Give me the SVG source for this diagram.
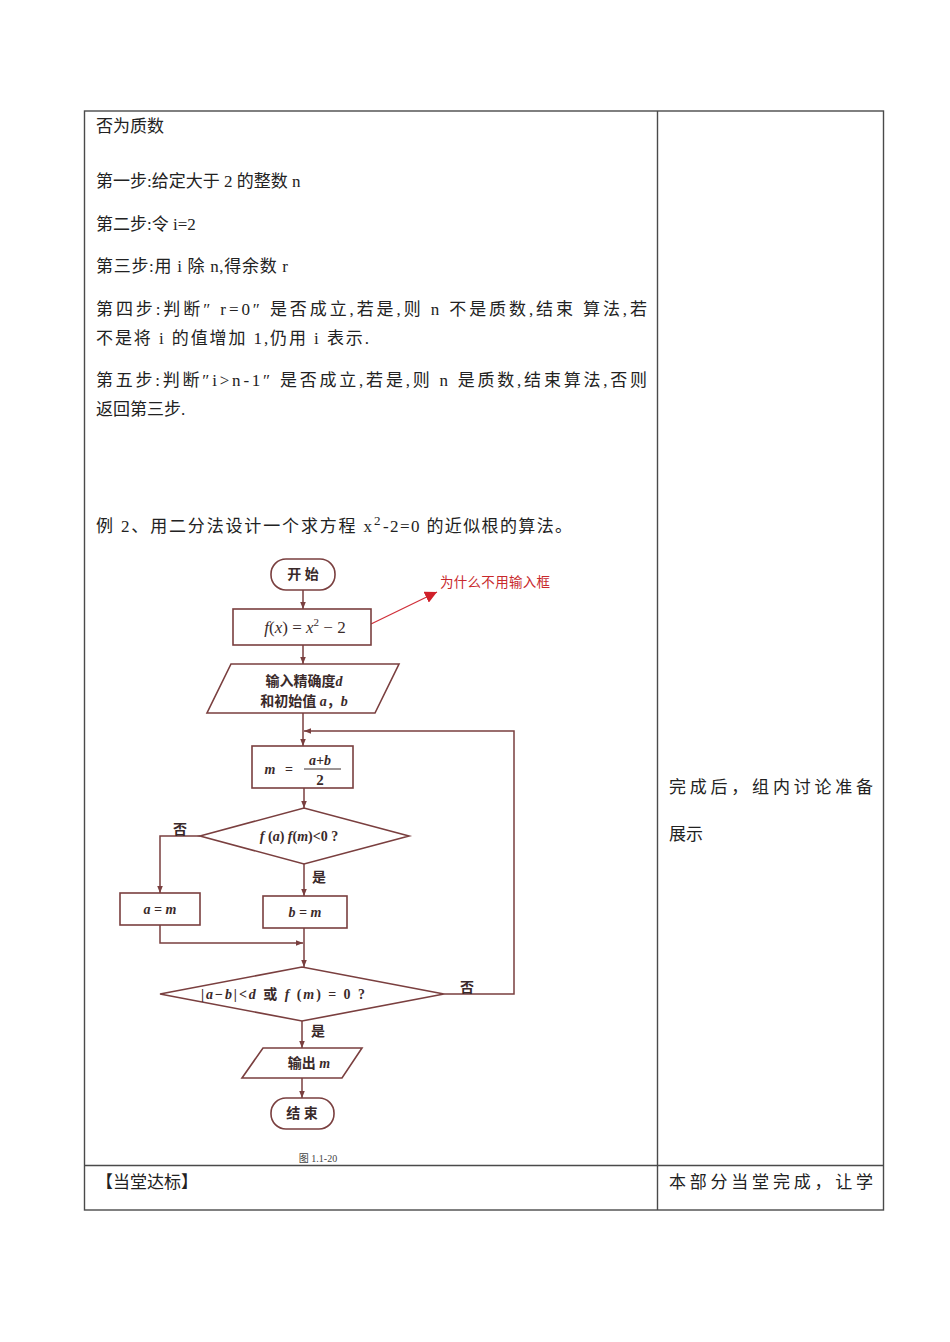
<svg xmlns="http://www.w3.org/2000/svg" width="950" height="1342" viewBox="0 0 950 1342">
<defs>
<style>
.tbl{stroke:#4a4a4a;stroke-width:1.4;fill:none}
.body{font-family:"Liberation Serif","Noto Sans CJK SC",serif;font-size:17px;fill:#222}
.fc{fill:#fff;stroke:#7a3f3f;stroke-width:1.6}
.ln{fill:none;stroke:#7a3f3f;stroke-width:1.5}
.ft{font-family:"Liberation Serif","Noto Sans CJK SC",serif;font-size:14px;font-weight:bold;fill:#3a2a2a;text-anchor:middle}
.fi{font-style:italic}
.lbl{font-family:"Liberation Serif","Noto Sans CJK SC",serif;font-size:14px;font-weight:bold;fill:#3a2a2a}
</style>
<marker id="ah" viewBox="0 0 10 10" refX="10" refY="5" markerWidth="7" markerHeight="7" orient="auto" markerUnits="userSpaceOnUse">
<path d="M0,1 L10,5 L0,9 z" fill="#7a3f3f"/>
</marker>
<marker id="rah" viewBox="0 0 10 10" refX="10" refY="5" markerWidth="12" markerHeight="12" orient="auto" markerUnits="userSpaceOnUse">
<path d="M0,0 L10,5 L0,10 z" fill="#d0202a"/>
</marker>
</defs>
<rect width="950" height="1342" fill="#fff"/>

<g id="table">
<rect class="tbl" x="84.5" y="111" width="799" height="1099"/>
<line class="tbl" x1="657.5" y1="111" x2="657.5" y2="1210"/>
<line class="tbl" x1="84.5" y1="1165.5" x2="883.5" y2="1165.5"/>
</g>

<g id="left-text">
<text class="body" x="96" y="132">否为质数</text>
<text class="body" x="96" y="187">第一步:给定大于 2 的整数 n</text>
<text class="body" x="96" y="230">第二步:令 i=2</text>
<text class="body" x="96" y="272" textLength="192" lengthAdjust="spacing">第三步:用 i 除 n,得余数 r</text>
<text class="body" x="96" y="315" textLength="551" lengthAdjust="spacing">第四步:判断″ r=0″ 是否成立,若是,则 n 不是质数,结束  算法,若</text>
<text class="body" x="96" y="344" textLength="273" lengthAdjust="spacing">不是将 i 的值增加 1,仍用 i 表示.</text>
<text class="body" x="96" y="386" textLength="551" lengthAdjust="spacing">第五步:判断″i&gt;n-1″ 是否成立,若是,则 n 是质数,结束算法,否则</text>
<text class="body" x="96" y="415">返回第三步.</text>
<text class="body" x="96" y="532" textLength="276" lengthAdjust="spacing">例 2、用二分法设计一个求方程 x</text>
<text class="body" x="374" y="525" style="font-size:13px">2</text>
<text class="body" x="383" y="532" textLength="189" lengthAdjust="spacing">-2=0 的近似根的算法。</text>
<text class="body" x="96" y="1188">【当堂达标】</text>
</g>

<g id="right-text">
<text class="body" x="669" y="793" textLength="204" lengthAdjust="spacing">完成后，组内讨论准备</text>
<text class="body" x="669" y="840">展示</text>
<text class="body" x="669" y="1188" textLength="204" lengthAdjust="spacing">本部分当堂完成，让学</text>
</g>

<g id="connectors">
<line class="ln" x1="303" y1="590" x2="303" y2="609" marker-end="url(#ah)"/>
<line x1="371" y1="624" x2="437" y2="592" stroke="#d0303a" stroke-width="1.3" marker-end="url(#rah)"/>
<line class="ln" x1="303" y1="645" x2="303" y2="664" marker-end="url(#ah)"/>
<line class="ln" x1="303" y1="713" x2="303" y2="746" marker-end="url(#ah)"/>
<polyline class="ln" points="444,994 514,994 514,731 304,731" marker-end="url(#ah)"/>
<line class="ln" x1="304" y1="788" x2="304" y2="808" marker-end="url(#ah)"/>
<polyline class="ln" points="200,836 160,836 160,893" marker-end="url(#ah)"/>
<line class="ln" x1="304" y1="864" x2="304" y2="896" marker-end="url(#ah)"/>
<polyline class="ln" points="160,925 160,943 303,943" marker-end="url(#ah)"/>
<line class="ln" x1="304" y1="928" x2="304" y2="967" marker-end="url(#ah)"/>
<line class="ln" x1="302" y1="1021" x2="302" y2="1048" marker-end="url(#ah)"/>
<line class="ln" x1="302" y1="1078" x2="302" y2="1098" marker-end="url(#ah)"/>
<text class="lbl" x="173" y="834">否</text>
<text class="lbl" x="312" y="882">是</text>
<text class="lbl" x="460" y="992">否</text>
<text class="lbl" x="311" y="1036">是</text>
<text x="440" y="587" textLength="110" lengthAdjust="spacing" style="font-family:'Noto Sans CJK SC',sans-serif;font-size:13.5px;fill:#c8282c">为什么不用输入框</text>
</g>

<g id="start">
<rect class="fc" x="271" y="559" width="64" height="31" rx="15"/>
<text class="ft" x="303" y="579">开  始</text>
</g>
<g id="fx">
<rect class="fc" x="233" y="609" width="138" height="36"/>
<text class="ft" x="305" y="633" style="font-size:17px;font-weight:normal"><tspan class="fi">f</tspan>(<tspan class="fi">x</tspan>) = <tspan class="fi">x</tspan><tspan dy="-7" font-size="11">2</tspan><tspan dy="7"> − 2</tspan></text>
</g>
<g id="input">
<polygon class="fc" points="231,664 399,664 375,713 207,713"/>
<text class="ft" x="304" y="686">输入精确度<tspan class="fi">d</tspan></text>
<text class="ft" x="304" y="706">和初始值 <tspan class="fi">a</tspan>，<tspan class="fi">b</tspan></text>
</g>
<g id="mid">
<rect class="fc" x="252" y="746" width="101" height="42"/>
<text class="ft fi" x="270" y="774">m</text>
<text class="ft" x="289" y="774">=</text>
<text class="ft fi" x="320" y="765">a+b</text>
<line x1="304" y1="769" x2="341" y2="769" stroke="#3a2a2a" stroke-width="1"/>
<text class="ft" x="320" y="785" style="font-size:15px">2</text>
</g>
<g id="cond1">
<polygon class="fc" points="200,836 304,808 409,836 304,864"/>
<text class="ft" x="299" y="841"><tspan class="fi">f</tspan> (<tspan class="fi">a</tspan>) <tspan class="fi">f</tspan>(<tspan class="fi">m</tspan>)&lt;0  ?</text>
</g>
<g id="a-eq-m">
<rect class="fc" x="120" y="893" width="80" height="32"/>
<text class="ft fi" x="160" y="914">a = m</text>
</g>
<g id="b-eq-m">
<rect class="fc" x="263" y="896" width="84" height="32"/>
<text class="ft fi" x="305" y="917">b = m</text>
</g>
<g id="cond2">
<polygon class="fc" points="160,994 302,967 444,994 302,1021"/>
<text class="ft" x="201" y="999" textLength="164" lengthAdjust="spacing" style="text-anchor:start">|<tspan class="fi">a</tspan>−<tspan class="fi">b</tspan>|&lt;<tspan class="fi">d</tspan> 或 <tspan class="fi">f</tspan> (<tspan class="fi">m</tspan>) = 0 ?</text>
</g>
<g id="output">
<polygon class="fc" points="263,1048 362,1048 342,1078 242,1078"/>
<text class="ft" x="309" y="1068">输出 <tspan class="fi">m</tspan></text>
</g>
<g id="end">
<rect class="fc" x="271" y="1098" width="63" height="31" rx="15"/>
<text class="ft" x="302" y="1118">结  束</text>
</g>
<g id="caption">
<text x="318" y="1162" style="font-family:'Liberation Serif','Noto Sans CJK SC',serif;font-size:10px;fill:#444;text-anchor:middle">图 1.1-20</text>
</g>
</svg>
